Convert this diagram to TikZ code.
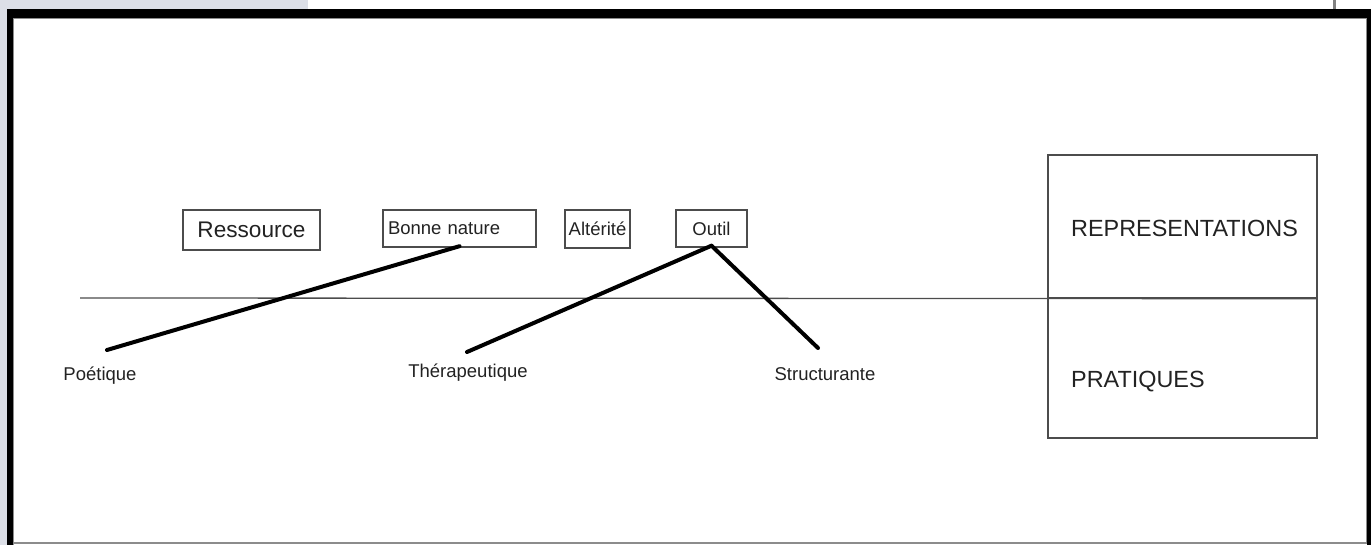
\documentclass[tikz,border=0pt]{standalone}
\usepackage{fontspec}
\setmainfont{Liberation Sans}
\definecolor{pagegray}{HTML}{DCDFE7}
\definecolor{inkgray}{HTML}{222222}
\tikzset{
  lbl/.style={inner sep=0pt, text=inkgray, font=\fontsize{18.5}{21}\selectfont},
  bigl/.style={inner sep=0pt, text=inkgray, font=\fontsize{23.4}{27}\selectfont},
  wbox/.style={draw=black!70, line width=1.4pt, inner sep=0pt, text=inkgray, font=\fontsize{18.5}{21}\selectfont},
  bar/.style={line width=4pt, line cap=round, black},
  axis/.style={line width=1.3pt, black!70},
}
\begin{document}
\begin{tikzpicture}[x=1pt,y=-1pt]
\useasboundingbox (0,0) rectangle (1371,545);
% page surroundings
\fill[pagegray] (0,0) rectangle (308,9);
\fill[pagegray] (0,0) rectangle (7,545);
\fill[black!50] (1333,0) rectangle (1336,9);
% thick frame
\fill[black] (7,9) rectangle (1371,18);
\fill[black] (7,9) rectangle (13,545);
\fill[black] (1367,9) rectangle (1371,545);
\draw[black!45, line width=1.2pt] (13.6,545) -- (13.6,18.6) -- (1366.4,18.6) -- (1366.4,543) -- (13.6,543);
% boxes
\node[wbox, minimum width=137pt, minimum height=40pt, font=\fontsize{22.6}{25}\selectfont] (ress) at (251.5,230) {Ressource};
\node[wbox, minimum width=153pt, minimum height=37pt, text width=143pt, align=left, inner xsep=5pt] (bonne) at (459.5,228.5) {Bonne nature};
\node[wbox, minimum width=65pt, minimum height=38pt] (alt) at (597.5,229) {Altérité};
\node[wbox, minimum width=71pt, minimum height=37pt] (outil) at (711.5,228.5) {Outil};
% right box
\node[draw=black!70, line width=1.4pt, minimum width=269pt, minimum height=143pt, inner sep=0pt] (rep) at (1182.5,226.5) {};
\node[draw=black!70, line width=1.4pt, minimum width=269pt, minimum height=140pt, inner sep=0pt] (prat) at (1182.5,368) {};
\node[bigl, anchor=west] (reptxt) at (1071,228) {REPRESENTATIONS};
\node[bigl, anchor=west] (prattxt) at (1071,382) {PRATIQUES};
% axis
\coordinate (axstart) at (80,298);
\draw[axis] (axstart) -- (rep.south east);
% labels
\node[lbl] (poet) at (100,376) {Poétique};
\node[lbl] (thera) at (468,373) {Thérapeutique};
\node[lbl] (struct) at (825,374) {Structurante};
\coordinate (pend) at (107,350);
\coordinate (tend) at (467,352);
\coordinate (send) at (818,348);
% connectors
\draw[bar] ([yshift=1.5pt]bonne.south) -- (pend);
\draw[bar] ([yshift=2pt]outil.south) -- (tend);
\draw[bar] ([yshift=2pt]outil.south) -- (send);
\end{tikzpicture}
\end{document}
